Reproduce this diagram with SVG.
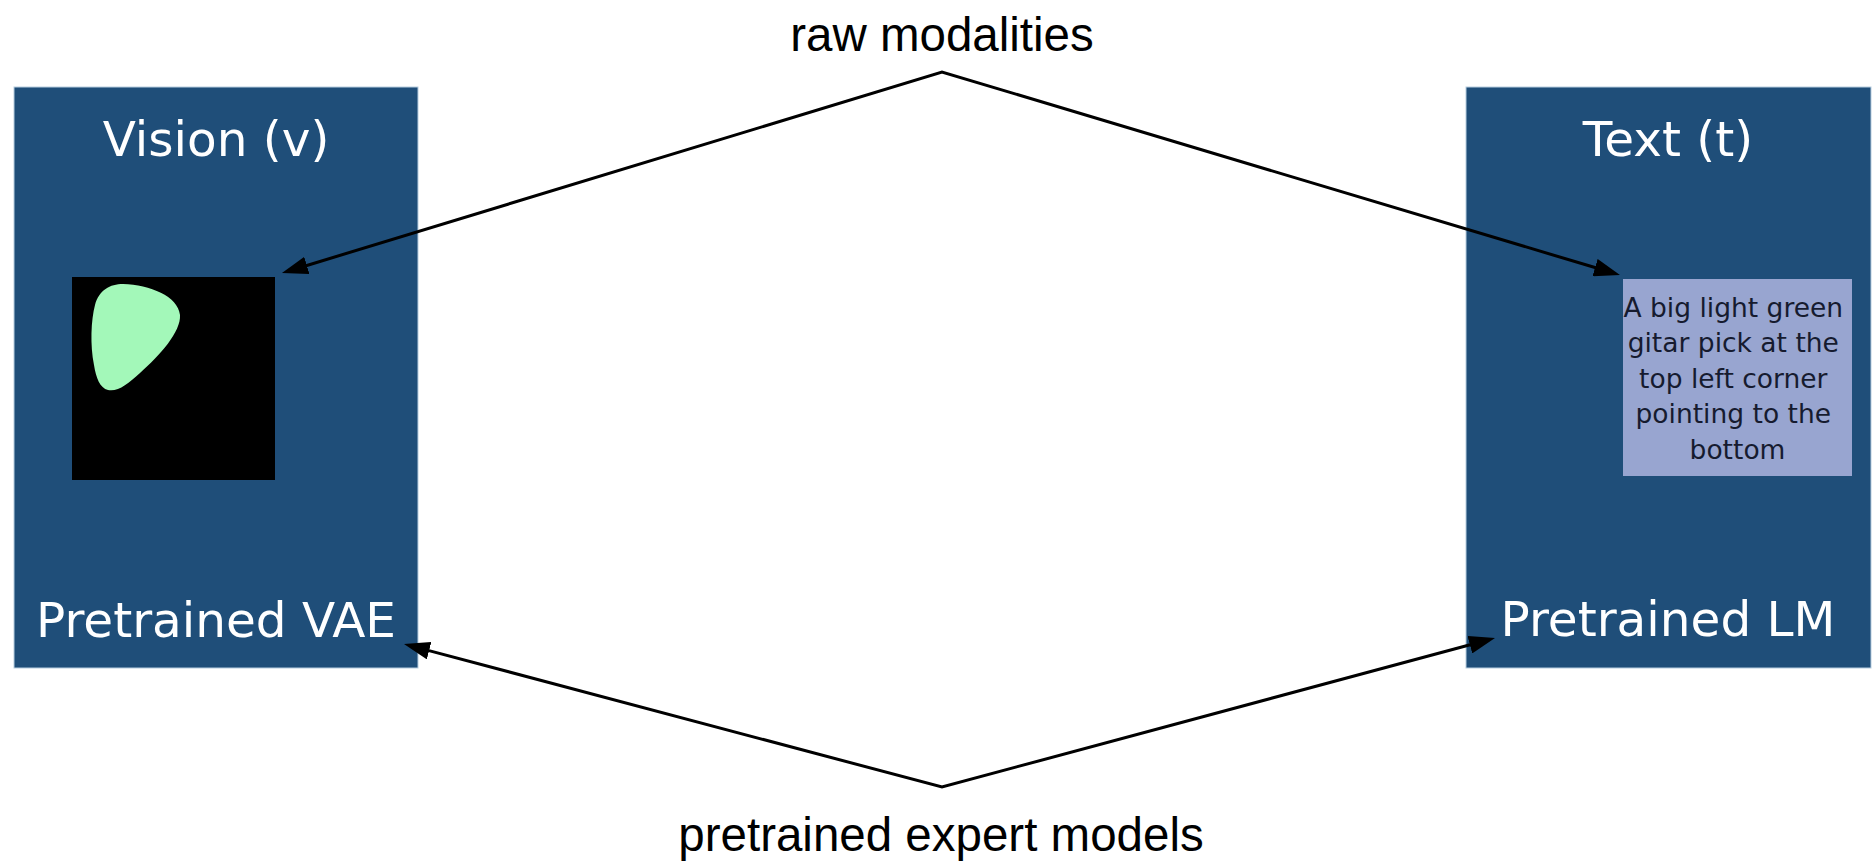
<svg xmlns="http://www.w3.org/2000/svg" width="1874" height="865" viewBox="0 0 1874 865">
  <style>
    .panel { fill: #1f4e79; stroke: #b7cde0; stroke-width: 1; }
    .title { font-family: "DejaVu Sans", Verdana, sans-serif; font-size: 48.5px; fill: #ffffff; text-anchor: middle; }
    .caption { font-family: "Liberation Sans", Arial, sans-serif; font-size: 47.5px; fill: #000000; text-anchor: middle; }
    .desc { font-family: "DejaVu Sans", Verdana, sans-serif; font-size: 26.5px; fill: #161b2f; text-anchor: middle; }
    .conn { fill: none; stroke: #000000; stroke-width: 3; stroke-linejoin: miter; marker-start: url(#head); marker-end: url(#head); }
  </style>
  <defs>
    <marker id="head" viewBox="0 0 26 18" refX="6" refY="9" markerWidth="26" markerHeight="18" markerUnits="userSpaceOnUse" orient="auto-start-reverse">
      <path d="M0,0 L26,9 L0,18 Z" fill="#000000"/>
    </marker>
  </defs>

  <rect width="1874" height="865" fill="#ffffff"/>

  <!-- Vision modality with its pretrained VAE -->
  <g id="vision">
    <rect class="panel" x="14" y="87" width="404" height="581"/>
    <text class="title" x="216" y="156">Vision (v)</text>
    <rect x="72" y="277" width="203" height="203" fill="#000000"/>
    <path d="M123 284 C150 285,178 296,180 315 C181 332,160 355,140 373 C128 384,118 392,108 390 C100 388,96 378,94 365 C90 345,91 320,95 305 C99 290,110 284,123 284 Z" fill="#a3f8b9"/>
    <text class="title" x="216" y="637">Pretrained VAE</text>
  </g>

  <!-- Text modality with its pretrained language model -->
  <g id="text">
    <rect class="panel" x="1466" y="87" width="405" height="581"/>
    <text class="title" x="1668" y="156">Text (t)</text>
    <rect x="1623" y="279" width="229" height="197" fill="#98a5d0"/>
    <text class="desc" x="1737.5">
      <tspan x="1737.5" y="316.5">A big light green</tspan>
      <tspan x="1737.5" y="352">gitar pick at the</tspan>
      <tspan x="1737.5" y="387.5">top left corner</tspan>
      <tspan x="1737.5" y="423">pointing to the</tspan>
      <tspan x="1737.5" y="458.5">bottom</tspan>
    </text>
    <text class="title" x="1668" y="636">Pretrained LM</text>
  </g>

  <!-- Caption labels -->
  <g id="label-raw">
    <text class="caption" x="942" y="51">raw modalities</text>
  </g>
  <g id="label-experts">
    <text class="caption" x="941" y="851">pretrained expert models</text>
  </g>

  <!-- Connectors -->
  <g id="connectors">
    <path class="conn" d="M301.1 267.2 L942 72 L1600.8 269.3"/>
    <path class="conn" d="M423.3 649.1 L942 787 L1475.7 643.2"/>
  </g>
</svg>
